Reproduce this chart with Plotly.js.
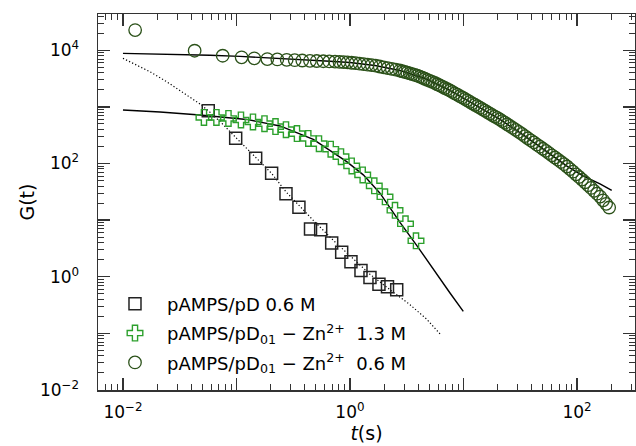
<!DOCTYPE html>
<html>
<head>
<meta charset="utf-8">
<script src="https://cdn.plot.ly/plotly-3.0.1.min.js"></script>
<style>html,body{margin:0;padding:0;background:#fff}#chart{width:636px;height:446px}</style>
</head>
<body>
<div id="chart"></div>
<script>
// ---- data ----
const squareT = [0.0564, 0.0984, 0.1476, 0.204, 0.273, 0.355, 0.449, 0.552, 0.690, 0.845, 1.02, 1.25, 1.50, 1.80, 2.14, 2.58];
const squareG = [857, 279, 124, 67.4, 29.1, 16.8, 6.94, 6.75, 3.93, 2.70, 1.84, 1.29, 0.97, 0.737, 0.666, 0.59];

const crossT = [0.0517, 0.0666, 0.0850, 0.1095, 0.1397, 0.1765, 0.2207, 0.2730, 0.3412, 0.4292, 0.5331, 0.6761, 0.8330, 1.035, 1.294, 1.637, 2.034, 2.492, 3.083, 3.815];
const crossG = [650, 650, 624, 587, 542, 505, 448, 396, 337, 277, 224, 179, 132, 90.7, 62.9, 40.3, 25.8, 14.9, 8.61, 4.31];

const circleT = [0.0128, 0.0428, 0.0756, 0.111, 0.1435, 0.187, 0.229, 0.277, 0.326, 0.380, 0.444, 0.509, 0.582, 0.657, 0.738,
  0.808, 0.877, 0.951, 1.032, 1.120, 1.215, 1.318, 1.430, 1.552, 1.684, 1.827, 1.982, 2.150, 2.333, 2.532, 2.747,
  2.890, 3.040, 3.198, 3.365, 3.539, 3.724, 3.917, 4.121, 4.335, 4.560, 4.797, 5.047, 5.309, 5.585, 5.876, 6.181, 6.503, 6.841, 7.196, 7.571, 7.964, 8.378, 8.814, 9.273, 9.755, 10.26, 10.80, 11.36, 11.95, 12.57, 13.22, 13.91, 14.64, 15.40, 16.20, 17.04, 17.93, 18.86, 19.84, 20.87, 21.96, 23.10, 24.30, 25.56,
  27.17, 28.88, 30.70, 32.64, 34.69, 36.88, 39.20, 41.67, 44.30, 47.09, 50.06, 53.21, 56.56, 60.13, 63.91, 67.94, 72.22, 76.77, 81.61, 86.75, 92.21, 98.02, 104.2, 110.8, 117.7, 125.2, 133.0, 141.4, 150.3, 159.8, 169.9, 180.6, 192.0];
const circleG = [22700, 9800, 8000, 7500, 7196, 6996, 6883, 6773, 6664, 6583, 6504, 6451, 6397, 6346, 6294,
  6226, 6158, 6099, 6010, 5900, 5780, 5664, 5560, 5452, 5330, 5158, 4994, 4834, 4680, 4529, 4385,
  4256, 4130, 4009, 3892, 3777, 3666, 3550, 3407, 3269, 3137, 3009, 2888, 2772, 2640, 2508, 2385, 2267, 2154, 2048, 1946, 1839, 1737, 1641, 1550, 1465, 1384, 1307, 1230, 1157, 1089, 1029, 968, 911, 857, 806, 762, 717, 674, 637, 600, 562, 526, 491, 460,
  426, 393, 362, 333, 305, 279, 257, 236, 216, 198, 182, 167, 153, 139.5, 127.6, 116.7, 106.3, 97.2, 88.5, 79.7, 71.7, 64.5, 57.8, 52.0, 46.6, 41.4, 37.0, 32.9, 29.3, 26.1, 22.4, 19.4, 16.7];

// fitted curves
const fitSquareT = [0.01, 0.01232, 0.01729, 0.02427, 0.03399, 0.0477, 0.05642, 0.07452, 0.0984, 0.1476, 0.2042, 0.273, 0.3626, 0.475, 0.7126, 1.035, 1.50, 2.251, 3.379, 4.741, 6.297];
const fitSquareG = [7196, 5875, 4176, 2782, 1759, 1125, 857, 510, 289, 128, 66.9, 31.6, 17.2, 9.92, 4.40, 2.16, 1.107, 0.590, 0.321, 0.178, 0.0948];

const fitCrossT = [0.01, 0.0212, 0.0477, 0.123, 0.2416, 0.475, 0.9353, 1.31, 1.838, 2.757, 3.87, 5.42, 7.605, 9.96];
const fitCrossG = [882, 813, 720, 600, 460, 266, 108, 63.0, 29.9, 9.15, 3.59, 1.33, 0.516, 0.244];

const fitCircleT = [0.01, 0.01729, 0.0318, 0.0584, 0.1074, 0.1973, 0.3626, 0.6665, 1.0, 1.661, 2.757, 4.579, 7.605, 12.63, 20.97, 34.83, 57.84, 81.6, 113.0, 159.4, 202.2];
const fitCircleG = [8815, 8677, 8468, 8165, 7808, 7376, 6911, 6397, 6069, 5373, 4385, 3169, 1946, 1089, 600, 305, 148.3, 89.6, 60.4, 43.7, 33.5];

const legendNames = ['pAMPS/pD 0.6 M', 'pAMPS/pD<sub>01</sub> \u2212 Zn<sup>2+</sup>  1.3 M', 'pAMPS/pD<sub>01</sub> \u2212 Zn<sup>2+</sup>  0.6 M'];

// labelled decades and unlabelled decades (long ticks without text)
const xTickVals = [0.01, 1, 100];
const xTickText = ['10<sup>\u22122</sup>', '10<sup>0</sup>', '10<sup>2</sup>'];
const xPlainDecades = [0.1, 10];
const yTickVals = [0.01, 1, 100, 10000];
const yTickText = ['10<sup>\u22122</sup>', '10<sup>0</sup>', '10<sup>2</sup>', '10<sup>4</sup>'];
const yPlainDecades = [0.1, 10, 1000];

// ---- chart ----
function minorVals(lo, hi) {
  const v = [];
  for (let d = lo; d <= hi; d++) for (let m = 2; m <= 9; m++) v.push(m * Math.pow(10, d));
  return v;
}
const axisColor = '#333';
const FONT = 'DejaVu Sans, sans-serif';
const X_RANGE = [-2.22, 2.511];
const Y_RANGE = [-2, 4.64];

const traces = [
  {x: fitSquareT, y: fitSquareG, mode: 'lines', line: {color: '#000', width: 1.2, dash: '1.2px,2.2px'}, showlegend: false, hoverinfo: 'skip'},
  {x: fitCrossT, y: fitCrossG, mode: 'lines', line: {color: '#000', width: 1.4}, showlegend: false, hoverinfo: 'skip'},
  {x: fitCircleT, y: fitCircleG, mode: 'lines', line: {color: '#000', width: 1.4}, showlegend: false, hoverinfo: 'skip'},
  {x: squareT, y: squareG, name: legendNames[0], legendgroup: 'a', mode: 'markers',
   marker: {symbol: 'square-open', size: 12, color: '#222', line: {width: 1.5}}},
  {x: crossT, y: crossG, name: legendNames[1], legendgroup: 'b', mode: 'markers',
   marker: {symbol: 'cross-open', size: 13, color: '#2ca02c', line: {width: 1.4}}},
  {x: circleT, y: circleG, name: legendNames[2], legendgroup: 'c', mode: 'markers',
   marker: {symbol: 'circle-open', size: 12.5, color: '#2b5119', line: {width: 1.3}}},
  // empty trace so the overlay axes (long unlabelled decade ticks) are created
  {x: [], y: [], xaxis: 'x2', yaxis: 'y2', mode: 'markers', showlegend: false, hoverinfo: 'skip'}
];

const commonAxis = {
  type: 'log', ticks: 'inside', ticklen: 12, tickwidth: 1.3, tickcolor: axisColor,
  showgrid: false, zeroline: false, tickfont: {size: 17}
};

const layout = {
  width: 636, height: 446,
  margin: {l: 98, r: 1, t: 14, b: 56},
  paper_bgcolor: '#fff', plot_bgcolor: '#fff',
  font: {family: FONT, color: '#000', size: 18},
  showlegend: true,
  legend: {x: 0.0093, y: 0.278, xanchor: 'left', yanchor: 'top', font: {family: FONT, size: 18},
           itemwidth: 54, traceorder: 'grouped', tracegroupgap: 3, bgcolor: 'rgba(0,0,0,0)'},
  xaxis: Object.assign({}, commonAxis, {
    range: X_RANGE, tickmode: 'array', tickvals: xTickVals, ticktext: xTickText,
    showline: true, linewidth: 1.5, linecolor: axisColor, mirror: 'allticks', ticklabelstandoff: 6,
    minor: {tickmode: 'array', tickvals: minorVals(-3, 3), ticks: 'inside', ticklen: 6, tickwidth: 1, tickcolor: axisColor, showgrid: false},
    title: {text: '<i>t</i>(s)', font: {size: 19}, standoff: 6}
  }),
  yaxis: Object.assign({}, commonAxis, {
    range: Y_RANGE, tickmode: 'array', tickvals: yTickVals, ticktext: yTickText,
    showline: true, linewidth: 1.5, linecolor: axisColor, mirror: 'allticks', ticklabelstandoff: 14,
    minor: {tickmode: 'array', tickvals: minorVals(-3, 5), ticks: 'inside', ticklen: 6, tickwidth: 1, tickcolor: axisColor, showgrid: false},
    title: {text: 'G(t)', font: {size: 19}, standoff: 0}
  }),
  xaxis2: Object.assign({}, commonAxis, {
    overlaying: 'x', anchor: 'y2', side: 'bottom', range: X_RANGE,
    tickmode: 'array', tickvals: xPlainDecades, showticklabels: false, showline: false, mirror: 'allticks'
  }),
  yaxis2: Object.assign({}, commonAxis, {
    overlaying: 'y', anchor: 'x2', side: 'left', range: Y_RANGE,
    tickmode: 'array', tickvals: yPlainDecades, showticklabels: false, showline: false, mirror: 'allticks'
  })
};

Plotly.newPlot('chart', traces, layout, {displayModeBar: false, staticPlot: true});
</script>
</body>
</html>
